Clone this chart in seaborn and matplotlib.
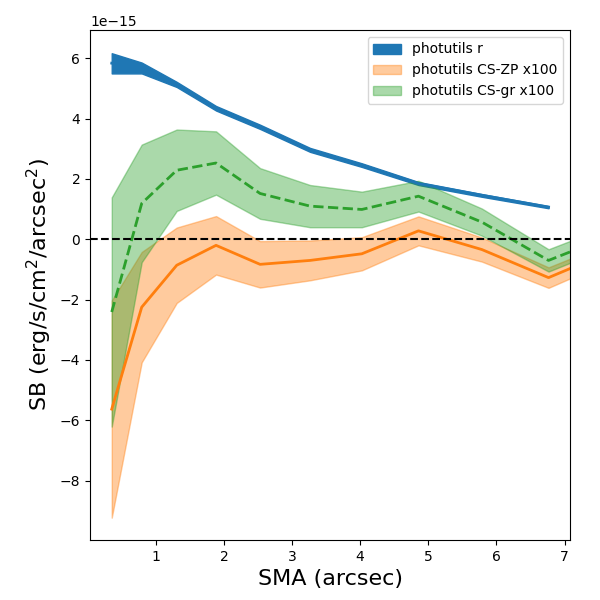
import numpy as np
import seaborn as sns
import matplotlib
matplotlib.use("Agg")
import matplotlib.pyplot as plt

# radii (arcsec) and surface brightness values (units of 1e-15)
sma_r = [0.354, 0.794, 1.308, 1.885, 2.531, 3.265, 4.025, 4.856, 5.787, 6.765]
sb_r = [5.84, 5.68, 5.12, 4.34, 3.73, 2.96, 2.46, 1.85, 1.46, 1.07]
sb_r_lo = [5.50, 5.50, 5.05, 4.27, 3.66, 2.90, 2.40, 1.80, 1.41, 1.03]
sb_r_hi = [6.17, 5.86, 5.22, 4.42, 3.80, 3.03, 2.52, 1.90, 1.50, 1.10]

sma_cs = [0.354, 0.794, 1.308, 1.885, 2.531, 3.265, 4.025, 4.856, 5.787, 6.765, 7.85]
sb_zp = [-5.63, -2.25, -0.86, -0.20, -0.83, -0.70, -0.48, 0.28, -0.34, -1.27, -0.24]
err_zp = [3.60, 1.83, 1.25, 0.97, 0.77, 0.66, 0.55, 0.48, 0.40, 0.34, 0.30]
sb_gr = [-2.41, 1.19, 2.29, 2.53, 1.52, 1.10, 0.99, 1.43, 0.57, -0.70, 0.27]
err_gr = [3.80, 1.95, 1.35, 1.05, 0.84, 0.70, 0.59, 0.51, 0.45, 0.37, 0.35]

scale = 1e-15
x_r = np.array(sma_r)
x_cs = np.array(sma_cs)
r = np.array(sb_r) * scale
zp = np.array(sb_zp) * scale
gr = np.array(sb_gr) * scale
ezp = np.array(err_zp) * scale
egr = np.array(err_gr) * scale

fig, ax = plt.subplots(figsize=(6, 6), dpi=100)
fig.subplots_adjust(left=0.15, right=0.95, bottom=0.1, top=0.95)

ax.fill_between(x_r, np.array(sb_r_lo) * scale, np.array(sb_r_hi) * scale,
                color="C0", label="photutils r")
sns.lineplot(x=x_r, y=r, ax=ax, color="C0", lw=2, sort=False, legend=False)

ax.fill_between(x_cs, zp - ezp, zp + ezp, color="C1", alpha=0.4,
                label="photutils CS-ZP x100")
sns.lineplot(x=x_cs, y=zp, ax=ax, color="C1", lw=2, sort=False, legend=False)

ax.fill_between(x_cs, gr - egr, gr + egr, color="C2", alpha=0.4,
                label="photutils CS-gr x100")
sns.lineplot(x=x_cs, y=gr, ax=ax, color="C2", lw=2, ls="--", sort=False, legend=False)

ax.axhline(0, color="k", ls="--", lw=1.5)

ax.set_xlim(0.035, 7.08)
ax.set_ylim(-9.97e-15, 6.94e-15)
ax.set_xlabel("SMA (arcsec)", fontsize=16)
ax.set_ylabel("SB (erg/s/cm$^2$/arcsec$^2$)", fontsize=16)
ax.legend(loc="upper right")

plt.savefig("out.png", dpi=100)
